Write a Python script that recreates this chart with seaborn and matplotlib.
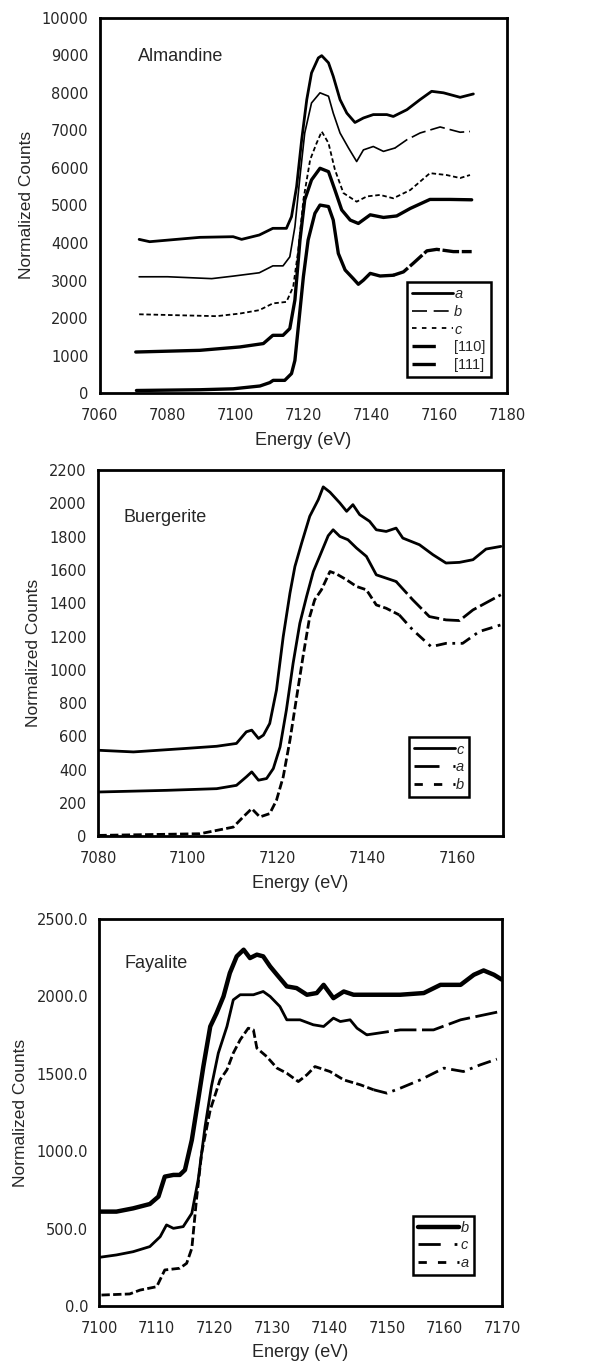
import matplotlib
matplotlib.use("Agg")
import matplotlib.pyplot as plt
import seaborn as sns
from matplotlib.lines import Line2D

# ---- Almandine ----
alm_a_e = [7071.6, 7074.7, 7089.5, 7099.3, 7101.8, 7107.0, 7111.0, 7115.0, 7116.5, 7118.0,
           7119.5, 7121.0, 7122.4, 7124.4, 7125.4, 7127.4, 7128.8, 7130.8, 7132.8, 7135.2,
           7137.7, 7140.6, 7144.6, 7146.5, 7150.5, 7154.4, 7157.8, 7161.3, 7166.2, 7170.1]
alm_a_y = [4096, 4034, 4150, 4167, 4096, 4212, 4390, 4390, 4700, 5500,
           6750, 7820, 8530, 8930, 8990, 8800, 8440, 7820, 7460, 7210,
           7330, 7420, 7420, 7370, 7550, 7820, 8040, 8000, 7880, 7970]

alm_b_e = [7071.6, 7080.0, 7093.0, 7099.3, 7107.0, 7111.0, 7114.0, 7116.0, 7117.5, 7119.0,
           7120.4, 7122.4, 7124.9, 7127.4, 7128.8, 7130.8, 7133.3, 7135.7, 7137.7, 7140.6,
           7143.6, 7147.0, 7150.5, 7154.4, 7160.3, 7166.2, 7169.1]
alm_b_y = [3099, 3100, 3050, 3117, 3206, 3390, 3390, 3630, 4430, 5770,
           6930, 7730, 8000, 7910, 7460, 6930, 6530, 6170, 6480, 6570,
           6440, 6530, 6750, 6930, 7090, 6950, 6970]

alm_c_e = [7071.6, 7094.4, 7101.3, 7107.0, 7111.0, 7115.0, 7117.0, 7118.5, 7120.0, 7122.0,
           7123.9, 7125.4, 7127.4, 7129.3, 7131.8, 7135.7, 7138.7, 7142.6, 7146.5, 7151.5,
           7157.3, 7162.2, 7166.2, 7169.1]
alm_c_y = [2100, 2050, 2120, 2210, 2390, 2430, 2830, 3810, 5150, 6220,
           6660, 6970, 6660, 5950, 5330, 5100, 5240, 5280, 5190, 5410,
           5860, 5810, 5730, 5810]

alm_110_e = [7070.6, 7089.5, 7101.3, 7108.2, 7111.0, 7114.0, 7116.0, 7117.5, 7119.0, 7120.4,
             7122.4, 7124.9, 7127.4, 7129.3, 7131.3, 7133.8, 7136.2, 7139.7, 7143.6, 7147.5,
             7151.5, 7157.3, 7163.2, 7169.6]
alm_110_y = [1095, 1140, 1230, 1320, 1540, 1540, 1720, 2480, 4080, 5150,
             5680, 5990, 5900, 5410, 4880, 4610, 4520, 4750, 4680, 4720,
             4920, 5160, 5160, 5150]

alm_111_e = [7070.8, 7089.5, 7099.3, 7107.2, 7110.1, 7111.1, 7114.5, 7116.5, 7117.5, 7118.5,
             7120.0, 7121.4, 7123.4, 7124.9, 7127.4, 7128.8, 7130.3, 7132.3, 7134.7, 7136.2,
             7137.7, 7139.7, 7142.6, 7146.5, 7149.5, 7152.4, 7156.4, 7159.3, 7164.2, 7169.6]
alm_111_y = [70, 90, 115, 190, 280, 340, 340, 520, 870, 1760,
             3100, 4080, 4790, 5010, 4970, 4610, 3720, 3280, 3050, 2900,
             3010, 3190, 3120, 3140, 3230, 3460, 3790, 3830, 3770, 3770]

# ---- Buergerite ----
bue_c_e = [7080.1, 7087.9, 7099.0, 7106.4, 7110.8, 7113.0, 7114.2, 7115.7, 7116.8, 7118.2,
           7119.7, 7121.2, 7122.7, 7123.8, 7125.3, 7127.1, 7129.0, 7130.1, 7131.6, 7133.8,
           7135.3, 7136.7, 7138.2, 7140.4, 7141.9, 7144.1, 7146.3, 7147.8, 7151.5, 7154.5,
           7157.4, 7160.4, 7163.4, 7166.3, 7169.6]
bue_c_y = [516, 506, 526, 540, 557, 627, 637, 587, 607, 677,
           878, 1199, 1461, 1621, 1762, 1923, 2023, 2100, 2068, 2003,
           1953, 1993, 1933, 1893, 1842, 1832, 1852, 1792, 1752, 1692,
           1642, 1646, 1662, 1726, 1742]

bue_a_e = [7080.1, 7095.3, 7106.4, 7110.8, 7113.0, 7114.2, 7115.7, 7117.5, 7119.0, 7120.5,
           7121.9, 7123.4, 7124.9, 7126.4, 7127.9, 7129.3, 7131.2, 7132.3, 7133.8, 7135.6,
           7137.5, 7139.7, 7141.9, 7144.1, 7146.3, 7150.0, 7153.7, 7157.4, 7160.4, 7163.4,
           7169.6]
bue_a_y = [265, 275, 285, 305, 356, 386, 336, 346, 406, 536,
           757, 1039, 1280, 1441, 1591, 1682, 1806, 1842, 1802, 1782,
           1732, 1682, 1571, 1551, 1531, 1421, 1320, 1300, 1296, 1360,
           1451]

bue_b_e = [7080.1, 7102.7, 7106.4, 7110.1, 7112.3, 7114.2, 7116.0, 7118.2, 7119.7, 7121.2,
           7122.7, 7124.2, 7125.6, 7127.1, 7128.2, 7129.7, 7131.6, 7133.0, 7135.3, 7137.5,
           7139.7, 7141.9, 7144.1, 7147.0, 7150.0, 7154.1, 7157.4, 7161.1, 7164.8, 7169.6]
bue_b_y = [4, 14, 34, 54, 115, 165, 115, 135, 215, 356,
           577, 838, 1079, 1320, 1421, 1481, 1591, 1577, 1541, 1501,
           1481, 1390, 1370, 1330, 1240, 1139, 1159, 1159, 1230, 1270]

# ---- Fayalite ----
fay_b_e = [7100.1, 7103.0, 7105.9, 7108.8, 7110.3, 7111.4, 7112.9, 7114.0, 7114.9, 7116.1,
           7117.2, 7118.1, 7119.3, 7120.4, 7121.6, 7122.7, 7123.9, 7125.1, 7126.2, 7127.4,
           7128.5, 7129.7, 7130.9, 7132.6, 7134.3, 7136.1, 7137.8, 7139.0, 7140.7, 7142.5,
           7144.2, 7146.5, 7152.3, 7156.4, 7159.3, 7162.8, 7165.1, 7166.8, 7168.6, 7170.0]
fay_b_y = [610, 610, 631, 659, 707, 836, 847, 847, 879, 1073,
           1332, 1547, 1806, 1892, 2000, 2151, 2259, 2302, 2248, 2270,
           2259, 2194, 2140, 2065, 2054, 2011, 2022, 2075, 1989, 2032,
           2011, 2011, 2011, 2022, 2075, 2075, 2140, 2168, 2140, 2108]

fay_c_e = [7100.1, 7103.0, 7105.9, 7108.8, 7110.6, 7111.7, 7112.9, 7114.6, 7116.1, 7117.2,
           7118.4, 7119.5, 7120.7, 7122.2, 7123.3, 7124.5, 7126.8, 7128.5, 7129.7, 7131.4,
           7132.6, 7134.9, 7137.2, 7139.0, 7140.7, 7141.9, 7143.6, 7144.8, 7146.5, 7152.3,
           7158.1, 7162.8, 7169.7]
fay_c_y = [315, 330, 351, 384, 448, 524, 502, 513, 599, 815,
           1159, 1418, 1634, 1806, 1978, 2011, 2011, 2032, 2000, 1935,
           1849, 1849, 1817, 1806, 1860, 1838, 1849, 1795, 1752, 1784,
           1784, 1849, 1903]

fay_a_e = [7100.4, 7105.3, 7107.1, 7110.0, 7111.4, 7114.0, 7115.2, 7116.1, 7116.9, 7117.8,
           7119.3, 7121.0, 7122.2, 7123.3, 7124.5, 7125.9, 7126.8, 7127.4, 7129.1, 7130.9,
           7132.6, 7134.6, 7136.1, 7137.5, 7140.1, 7142.5, 7145.4, 7147.7, 7150.0, 7152.3,
           7155.8, 7159.9, 7163.3, 7166.2, 7169.1]
fay_a_y = [71, 78, 103, 125, 233, 244, 276, 373, 685, 987,
           1267, 1461, 1526, 1634, 1720, 1795, 1784, 1666, 1612, 1537,
           1504, 1450, 1494, 1547, 1515, 1461, 1429, 1397, 1375, 1407,
           1461, 1537, 1515, 1558, 1595]

sns.set_style("white")
plt.rcParams['font.family'] = ['Liberation Sans', 'DejaVu Sans']

fig = plt.figure(figsize=(6.16, 13.65), dpi=100)
ax1 = fig.add_axes([0.162, 0.712, 0.661, 0.275])
ax2 = fig.add_axes([0.159, 0.3875, 0.657, 0.268])
ax3 = fig.add_axes([0.161, 0.0432, 0.654, 0.2835])

# each curve: energy, counts, lw, style of dense part, energy where the
# sparse (visibly dashed) tail begins, tail style, legend label, legend style
DOT = (0, (2.5, 1.5))
panels = [
    (ax1, "Almandine", (7060, 7180), 20, (0, 10000), 1000, "{:.0f}",
     [(alm_a_e, alm_a_y, 2.0, '-', None, None, 'a', '-'),
      (alm_b_e, alm_b_y, 1.2, '-', 7147.0, (0, (9, 3)), 'b', (0, (9, 4))),
      (alm_c_e, alm_c_y, 1.3, DOT, None, None, 'c', (0, (2.5, 3))),
      (alm_110_e, alm_110_y, 2.4, '-', None, None, '[110]', (0, (7, 6, 1, 1))),
      (alm_111_e, alm_111_y, 2.4, '-', 7146.5, (0, (5, 0.8)), '[111]', (0, (7, 6, 1, 1)))],
     (0.754, 0.043), (0.093, 0.896)),
    (ax2, "Buergerite", (7080, 7170), 20, (0, 2200), 200, "{:.0f}",
     [(bue_c_e, bue_c_y, 2.0, '-', None, None, 'c', '-'),
      (bue_a_e, bue_a_y, 2.0, '-', 7146.3, (0, (6, 1.5)), 'a', (0, (9, 5, 1, 1))),
      (bue_b_e, bue_b_y, 2.0, (0, (3, 1.2)), 7147.0, (0, (4, 2, 1, 2)), 'b', (0, (3, 4)))],
     (0.768, 0.107), (0.064, 0.872)),
    (ax3, "Fayalite", (7100, 7170), 10, (0, 2500), 500, "{:.1f}",
     [(fay_b_e, fay_b_y, 3.2, '-', None, None, 'b', '-'),
      (fay_c_e, fay_c_y, 2.0, '-', 7146.5, (0, (8, 2)), 'c', (0, (8, 5, 1, 1))),
      (fay_a_e, fay_a_y, 2.0, (0, (3, 1.2)), 7147.7, (0, (5, 2, 1, 2)), 'a', (0, (3, 4)))],
     (0.779, 0.080), (0.062, 0.884)),
]

for ax, name, xlim, xstep, ylim, ystep, yfmt, curves, leg_pos, name_pos in panels:
    handles = []
    for e, v, lw, ls, tail, tail_ls, lab, leg_ls in curves:
        if tail is None:
            sns.lineplot(x=e, y=v, ax=ax, color='black', lw=lw, linestyle=ls,
                         sort=False, estimator=None, legend=False)
        else:
            k = e.index(tail)
            sns.lineplot(x=e[:k + 1], y=v[:k + 1], ax=ax, color='black', lw=lw,
                         linestyle=ls, sort=False, estimator=None, legend=False)
            sns.lineplot(x=e[k:], y=v[k:], ax=ax, color='black', lw=lw,
                         linestyle=tail_ls, sort=False, estimator=None, legend=False)
        handles.append(Line2D([], [], color='black', lw=lw, linestyle=leg_ls, label=lab))

    ax.set_xlim(*xlim)
    ax.set_ylim(*ylim)
    ax.set_xticks(range(xlim[0], xlim[1] + 1, xstep))
    yt = list(range(ylim[0], ylim[1] + 1, ystep))
    ax.set_yticks(yt)
    ax.set_yticklabels([yfmt.format(t) for t in yt])
    for s in ax.spines.values():
        s.set_linewidth(2.0)
        s.set_color('black')
    ax.tick_params(axis='both', labelsize=10.5, length=0, pad=8,
                   labelfontfamily='DejaVu Sans')
    ax.tick_params(axis='x', pad=11)
    ax.set_xlabel("Energy (eV)", fontsize=13, labelpad=6)
    ax.set_ylabel("Normalized Counts", fontsize=12.5, labelpad=6)
    ax.text(name_pos[0], name_pos[1], name, transform=ax.transAxes,
            fontsize=13, va='center', ha='left')

    leg = ax.legend(handles=handles, loc='lower left', bbox_to_anchor=leg_pos,
                    borderaxespad=0, fontsize=10.5, handlelength=2.8, handletextpad=0.1,
                    labelspacing=0.25, borderpad=0.35, fancybox=False, framealpha=1)
    leg.get_frame().set_edgecolor('black')
    leg.get_frame().set_linewidth(1.8)
    for t in leg.get_texts():
        if not t.get_text().startswith('['):
            t.set_style('italic')

ax3.tick_params(axis='x', length=2.5, color='0.6', width=0.8, direction='out', pad=8)

fig.savefig("out.png", dpi=100)
